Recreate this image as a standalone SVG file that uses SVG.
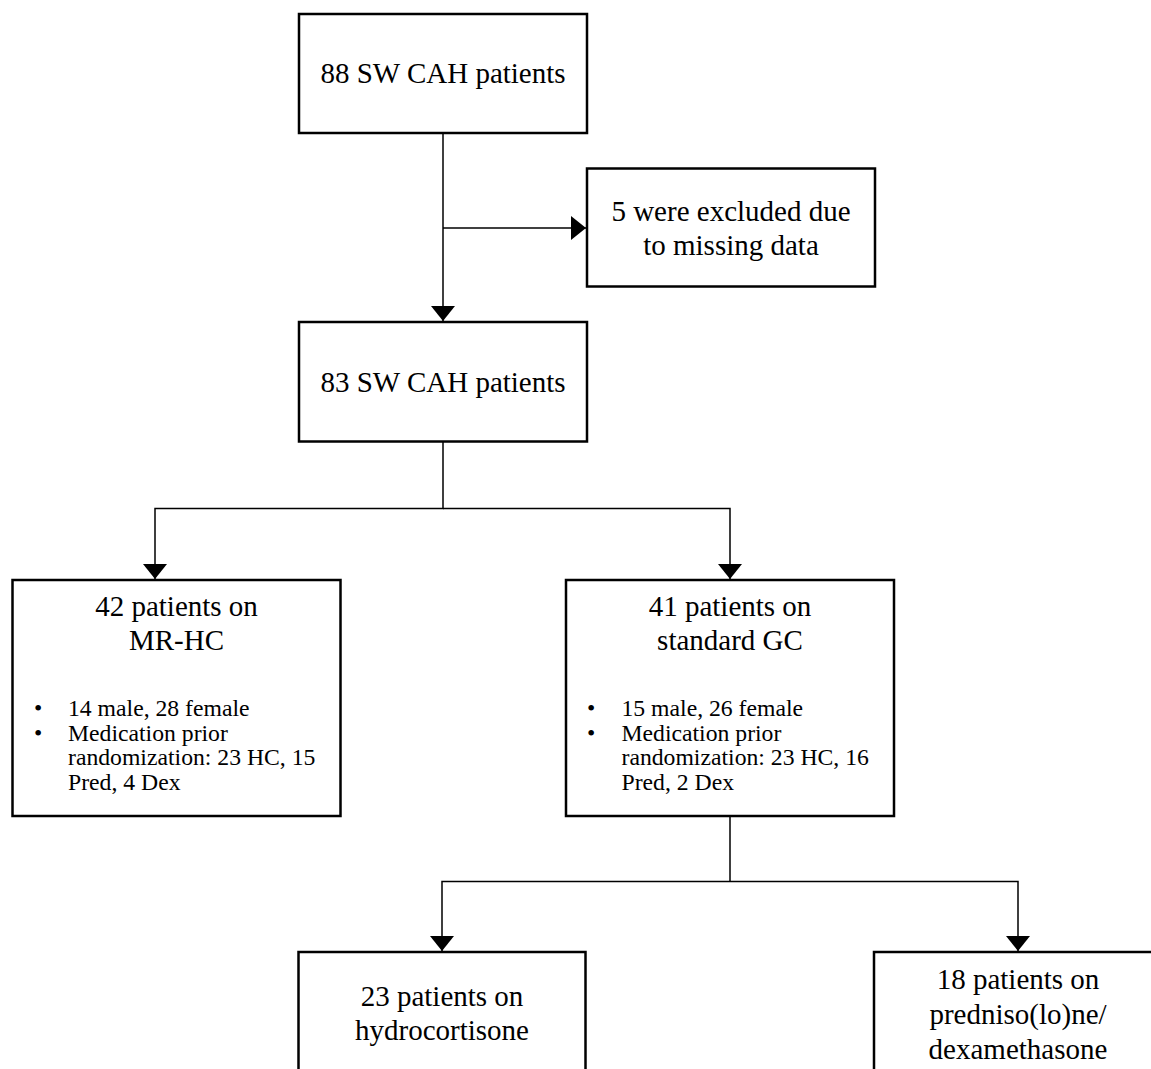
<svg xmlns="http://www.w3.org/2000/svg" width="1151" height="1069" viewBox="0 0 1151 1069">
<style>
.box{fill:#fff;stroke:#000;stroke-width:2.5}
.ln{fill:none;stroke:#000;stroke-width:1.5}
.t{font-family:"Liberation Serif","Times New Roman",serif;font-size:29px;fill:#000;text-anchor:middle}
.s{font-family:"Liberation Serif","Times New Roman",serif;font-size:23.7px;fill:#000}
</style>
<defs>
<marker id="ah" markerUnits="userSpaceOnUse" markerWidth="16" markerHeight="26" refX="15" refY="12" orient="auto">
<path d="M0,0 L15,12 L0,24 z" fill="#000"/>
</marker>
</defs>
<rect width="1151" height="1069" fill="#fff"/>
<g id="connectors">
<line class="ln" x1="443" y1="133" x2="443" y2="321" marker-end="url(#ah)"/>
<line class="ln" x1="443" y1="228" x2="586" y2="228" marker-end="url(#ah)"/>
<polyline class="ln" points="443,442 443,508.5 155,508.5 155,579" marker-end="url(#ah)"/>
<polyline class="ln" points="443,508.5 730,508.5 730,579" marker-end="url(#ah)"/>
<line class="ln" x1="730" y1="816" x2="730" y2="881.5"/>
<polyline class="ln" points="730,881.5 442,881.5 442,951" marker-end="url(#ah)"/>
<polyline class="ln" points="730,881.5 1018,881.5 1018,951" marker-end="url(#ah)"/>
</g>
<g id="n1">
<rect class="box" x="299" y="14" width="288" height="119"/>
<text class="t" x="443" y="83">88 SW CAH patients</text>
</g>
<g id="n2">
<rect class="box" x="587" y="168.5" width="288" height="118"/>
<text class="t" x="731" y="221">5 were excluded due</text>
<text class="t" x="731" y="255">to missing data</text>
</g>
<g id="n3">
<rect class="box" x="299" y="322" width="288" height="119.5"/>
<text class="t" x="443" y="392">83 SW CAH patients</text>
</g>
<g id="n4">
<rect class="box" x="12.5" y="580" width="328" height="236"/>
<text class="t" x="176.5" y="616">42 patients on</text>
<text class="t" x="176.5" y="650">MR-HC</text>
<text class="s" x="34" y="716">•</text>
<text class="s" x="68" y="716">14 male, 28 female</text>
<text class="s" x="34" y="740.5">•</text>
<text class="s" x="68" y="740.5">Medication prior</text>
<text class="s" x="68" y="765">randomization: 23 HC, 15</text>
<text class="s" x="68" y="789.5">Pred, 4 Dex</text>
</g>
<g id="n5">
<rect class="box" x="566" y="580" width="328" height="236"/>
<text class="t" x="730" y="616">41 patients on</text>
<text class="t" x="730" y="650">standard GC</text>
<text class="s" x="587" y="716">•</text>
<text class="s" x="621.5" y="716">15 male, 26 female</text>
<text class="s" x="587" y="740.5">•</text>
<text class="s" x="621.5" y="740.5">Medication prior</text>
<text class="s" x="621.5" y="765">randomization: 23 HC, 16</text>
<text class="s" x="621.5" y="789.5">Pred, 2 Dex</text>
</g>
<g id="n6">
<rect class="box" x="298.5" y="952" width="287" height="140"/>
<text class="t" x="442" y="1006">23 patients on</text>
<text class="t" x="442" y="1040">hydrocortisone</text>
</g>
<g id="n7">
<rect class="box" x="874" y="952" width="288" height="140"/>
<text class="t" x="1018" y="988.5">18 patients on</text>
<text class="t" x="1018" y="1024">predniso(lo)ne/</text>
<text class="t" x="1018" y="1058.5">dexamethasone</text>
</g>
</svg>
